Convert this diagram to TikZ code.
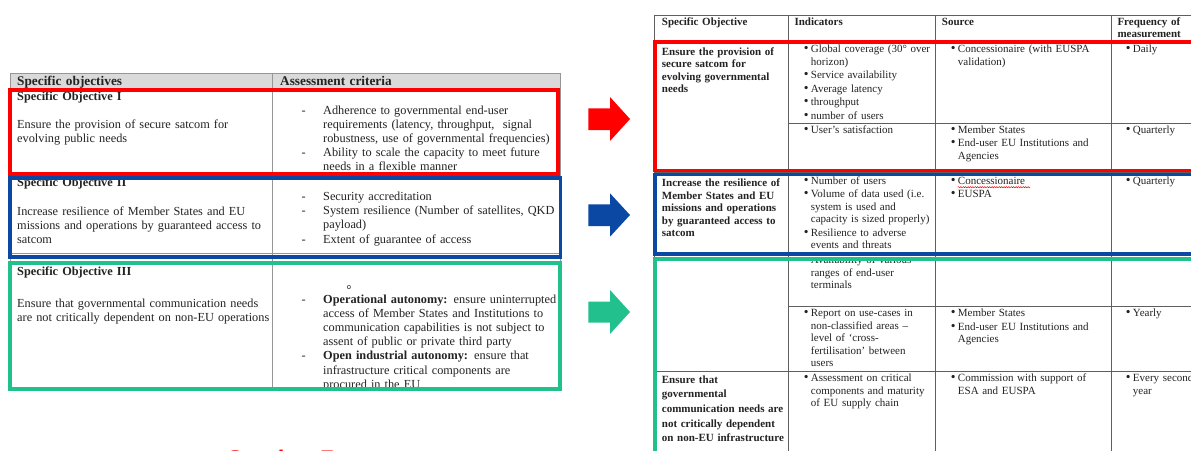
\documentclass[tikz,border=0pt]{standalone}
\usepackage{fontspec}
\setmainfont{Liberation Serif}
\newfontfamily\secfont{Liberation Sans}
\usetikzlibrary{decorations.pathmorphing}
\definecolor{boxred}{RGB}{255,0,0}
\definecolor{boxblue}{RGB}{10,72,164}
\definecolor{boxgreen}{RGB}{34,192,140}
\definecolor{lgrid}{RGB}{150,150,150}
\definecolor{rgrid}{RGB}{95,95,95}
\definecolor{hfill}{RGB}{218,218,218}
\definecolor{txt}{RGB}{35,35,35}
\newcommand{\rbul}{\leavevmode\llap{{\fontsize{13.5}{12}\selectfont\textbullet}\hspace{2.2pt}}}
\newcommand{\ldash}{\leavevmode\llap{-\hspace{17.5pt}}}
\begin{document}
\begin{tikzpicture}[x=1pt,y=-1pt,
  tx/.style={anchor=base west, inner sep=0pt, text width=300pt, align=left, text=txt},
  lhb/.style={tx, font=\fontsize{13.3}{15}\selectfont\bfseries},
  lsb/.style={tx, font=\fontsize{12.3}{14.2}\selectfont\bfseries},
  lb/.style={tx, font=\fontsize{12.3}{14.2}\selectfont},
  rb/.style={tx, text width=170pt, font=\fontsize{11}{12.5}\selectfont},
  rbb/.style={tx, text width=170pt, font=\fontsize{11}{12.55}\selectfont\bfseries},
  lgridline/.style={draw=lgrid, line width=0.8pt},
  rgridline/.style={draw=rgrid, line width=0.8pt},
  hlbox/.style={line width=3.8pt}
]
\useasboundingbox (0,0) rectangle (1191,450);
\clip (0,0) rectangle (1191,450);
\fill[white] (0,0) rectangle (1191,450);

% ---------------- left table ----------------
\fill[hfill] (10,73) rectangle (560,88);
\draw[lgridline] (10,73) rectangle (560,390);
\draw[lgridline] (272,73) -- (272,390);
\draw[lgridline] (10,88) -- (560,88);
\draw[lgridline] (10,174) -- (560,174);
\draw[lgridline] (10,253.5) -- (560,253.5);
\draw[lgridline] (10,261) -- (560,261);

\node[lhb] (lh1) at (17,85) {Specific objectives};
\node[lhb] (lh2) at (280,85) {Assessment criteria};

\node[lsb] (so1t) at (17,100.5) {Specific Objective I};
\node[lb] (so1b) at (17,128) {Ensure the provision of secure satcom for\\evolving public needs};
\node[lb] (so1c) at (323,114) {\ldash Adherence to governmental end-user\\requirements (latency, throughput,~ signal\\robustness, use of governmental frequencies)\\\ldash Ability to scale the capacity to meet future\\needs in a flexible manner};

\node[lsb] (so2t) at (17,186.7) {Specific Objective II};
\node[lb] (so2b) at (17,215) {Increase resilience of Member States and EU\\missions and operations by guaranteed access to\\satcom};
\node[lb] (so2c) at (323,200.5) {\ldash Security accreditation\\\ldash System resilience (Number of satellites, QKD\\payload)\\\ldash Extent of guarantee of access};

\node[lsb] (so3t) at (17,275.7) {Specific Objective III};
\node[lb] (so3b) at (17,307) {Ensure that governmental communication needs\\are not critically dependent on non-EU operations};
\node[tx, font=\fontsize{9}{10}\selectfont\ttfamily] (so3o) at (346.5,289) {o};
\begin{scope}
\clip (272,262) rectangle (560,386.5);
\node[lb] (so3c) at (323,303) {\ldash \textbf{Operational autonomy:} ensure uninterrupted\\access of Member States and Institutions to\\communication capabilities is not subject to\\assent of public or private third party\\\ldash \textbf{Open industrial autonomy:} ensure that\\infrastructure critical components are\\procured in the EU};
\end{scope}

% ---------------- arrows ----------------
\fill[boxred] (588.3,108.3) -- (610,108.3) -- (610,97) -- (630,119) -- (610,141) -- (610,130) -- (588.3,130) -- cycle;
\fill[boxblue] (588.3,204.3) -- (610,204.3) -- (610,193.3) -- (630,215) -- (610,236.7) -- (610,226) -- (588.3,226) -- cycle;
\fill[boxgreen] (588.3,301.5) -- (610,301.5) -- (610,290) -- (630,312) -- (610,334) -- (610,322.5) -- (588.3,322.5) -- cycle;

% ---------------- right table ----------------
\draw[rgridline] (654,15) -- (1200,15);
\draw[rgridline] (654,15) -- (654,470);
\draw[rgridline] (788,15) -- (788,470);
\draw[rgridline] (935,15) -- (935,470);
\draw[rgridline] (1111,15) -- (1111,470);
\draw[rgridline] (654,42) -- (1200,42);
\draw[rgridline] (788,123) -- (1200,123);
\draw[rgridline] (654,172) -- (1200,172);
\draw[rgridline] (654,252.5) -- (1200,252.5);
\draw[rgridline] (788,306) -- (1200,306);
\draw[rgridline] (654,371) -- (1200,371);

\node[rbb] (rh1) at (661.7,25) {Specific Objective};
\node[rbb] (rh2) at (794.3,25) {Indicators};
\node[rbb] (rh3) at (941.7,25) {Source};
\node[rbb] (rh4) at (1117.3,25) {Frequency of\\measurement};

% row 1
\node[rbb] (r1a) at (661.7,55) {Ensure the provision of\\secure satcom for\\evolving governmental\\needs};
\node[rb] (r1b) at (810.7,52.7) {\rbul Global coverage (30° over\\horizon)\\[1pt]\rbul Service availability\\[1pt]\rbul Average latency\\[1pt]\rbul throughput\\[1pt]\rbul number of users};
\node[rb] (r1c) at (957.7,52.7) {\rbul Concessionaire (with EUSPA\\validation)};
\node[rb] (r1d) at (1132.7,52.7) {\rbul Daily};
\node[rb] (r1e) at (810.7,133) {\rbul User’s satisfaction};
\node[rb] (r1f) at (957.7,133) {\rbul Member States\\[1pt]\rbul End-user EU Institutions and\\Agencies};
\node[rb] (r1g) at (1132.7,133) {\rbul Quarterly};

% row 2
\node[rbb] (r2a) at (661.7,186.7) {Increase the resilience of\\Member States and EU\\missions and operations\\by guaranteed access to\\satcom};
\node[rb] (r2b) at (810.7,184) {\rbul Number of users\\[1pt]\rbul Volume of data used (i.e.\\system is used and\\capacity is sized properly)\\[1pt]\rbul Resilience to adverse\\events and threats};
\node[rb] (r2c) at (957.7,184) {\rbul Concessionaire\\[1pt]\rbul EUSPA};
\node[rb] (r2d) at (1132.7,184) {\rbul Quarterly};
\draw[boxred, line width=0.5pt, decorate, decoration={snake, amplitude=0.6pt, segment length=2.4pt}] (957.7,187.2) -- (1030,187.2);

% row 3
\begin{scope}
\clip (788,259.5) rectangle (935,306);
\node[rb] (r3b) at (810.7,263.8) {\rbul Availability of various\\ranges of end-user\\terminals};
\end{scope}
\node[rb] (r3c) at (810.7,316.7) {\rbul Report on use-cases in\\non-classified areas –\\level of ‘cross-\\fertilisation’ between\\users};
\node[rb] (r3d) at (957.7,316.7) {\rbul Member States\\[1pt]\rbul End-user EU Institutions and\\Agencies};
\node[rb] (r3e) at (1132.7,316.7) {\rbul Yearly};

% row 4
\node[rbb, font=\fontsize{11}{14.6}\selectfont\bfseries] (r4a) at (661.7,383.3) {Ensure that\\governmental\\communication needs are\\not critically dependent\\on non-EU infrastructure};
\node[rb] (r4b) at (810.7,381.7) {\rbul Assessment on critical\\components and maturity\\of EU supply chain};
\node[rb] (r4c) at (957.7,381.7) {\rbul Commission with support of\\ESA and EUSPA};
\node[rb] (r4d) at (1132.7,381.7) {\rbul Every second\\year};

% ---------------- highlight boxes ----------------
\draw[boxred, hlbox] (10.3,89.7) rectangle (558,174);
\draw[boxblue, hlbox] (10.3,177.7) rectangle (560.5,257);
\draw[boxgreen, hlbox] (10.3,263.3) rectangle (559.7,389);
\draw[boxred, hlbox] (654.7,42) rectangle (1210,170.5);
\draw[boxblue, hlbox] (655.3,174.5) rectangle (1210,254.3);
\draw[boxgreen, hlbox] (654.7,259.2) rectangle (1210,480);

% ---------------- cut-off caption ----------------
\node[anchor=base west, inner sep=0pt, text=boxred, font=\secfont\bfseries\fontsize{24}{28}\selectfont] (sec) at (227,467.5) {Section 7};
\end{tikzpicture}
\end{document}
